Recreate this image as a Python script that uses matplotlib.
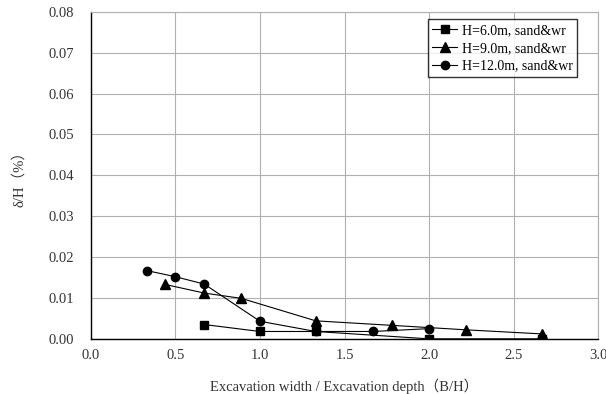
import matplotlib.pyplot as plt

# B/H ratio and settlement ratio for each excavation depth
bh_6 = [0.67, 1.0, 1.33, 2.0, 2.67]
dh_6 = [0.0035, 0.0018, 0.0018, 0.0, 0.0]

bh_9 = [0.44, 0.67, 0.89, 1.33, 1.78, 2.22, 2.67]
dh_9 = [0.0133, 0.0112, 0.0099, 0.0044, 0.0033, 0.0022, 0.0012]

bh_12 = [0.33, 0.5, 0.67, 1.0, 1.33, 1.67, 2.0]
dh_12 = [0.0167, 0.0152, 0.0134, 0.0043, 0.0018, 0.0018, 0.0025]

x_ticks = [0.0, 0.5, 1.0, 1.5, 2.0, 2.5, 3.0]
y_ticks = [0.00, 0.01, 0.02, 0.03, 0.04, 0.05, 0.06, 0.07, 0.08]

plt.rcParams['font.family'] = ['Liberation Serif', 'Noto Sans CJK JP', 'DejaVu Serif']

fig = plt.figure(figsize=(6.06, 3.94), dpi=100)
ax = fig.add_axes([0.150, 0.140, 0.837, 0.830])

ax.plot(bh_6, dh_6, '-s', color='black', lw=0.8, ms=6, label='H=6.0m, sand&wr', zorder=3)
ax.plot(bh_9, dh_9, '-^', color='black', lw=0.8, ms=6.5, label='H=9.0m, sand&wr', zorder=3)
ax.plot(bh_12, dh_12, '-o', color='black', lw=0.8, ms=6, label='H=12.0m, sand&wr', zorder=3)

ax.set_xlim(0, 3.0)
ax.set_ylim(0, 0.08)
ax.set_xticks(x_ticks)
ax.set_yticks(y_ticks)
ax.set_xticklabels([f'{v:.1f}' for v in x_ticks])
ax.set_yticklabels([f'{v:.2f}' for v in y_ticks])
ax.tick_params(length=0, labelsize=10.5, colors='#333333')
ax.tick_params(axis='y', pad=12)
ax.tick_params(axis='x', pad=7)
ax.grid(True, color='#b0b0b0', lw=0.8)
ax.set_axisbelow(True)

for side in ['top', 'right']:
    ax.spines[side].set_color('#b0b0b0')
for side in ['left', 'bottom']:
    ax.spines[side].set_color('black')
    ax.spines[side].set_linewidth(1.0)

ax.set_xlabel('Excavation width / Excavation depth（B/H）', fontsize=10.5, color='#333333', labelpad=12)
ax.set_ylabel('δ/H（%）', fontsize=10.5, color='#333333', labelpad=16)

leg = ax.legend(loc='upper right', bbox_to_anchor=(0.97, 0.995), fontsize=10, frameon=True,
                fancybox=False, borderaxespad=0.4, handlelength=1.8, labelspacing=0.35,
                borderpad=0.35, handletextpad=0.3)
leg.get_frame().set_edgecolor('black')
leg.get_frame().set_linewidth(1.0)

fig.savefig('out.png', dpi=100)
